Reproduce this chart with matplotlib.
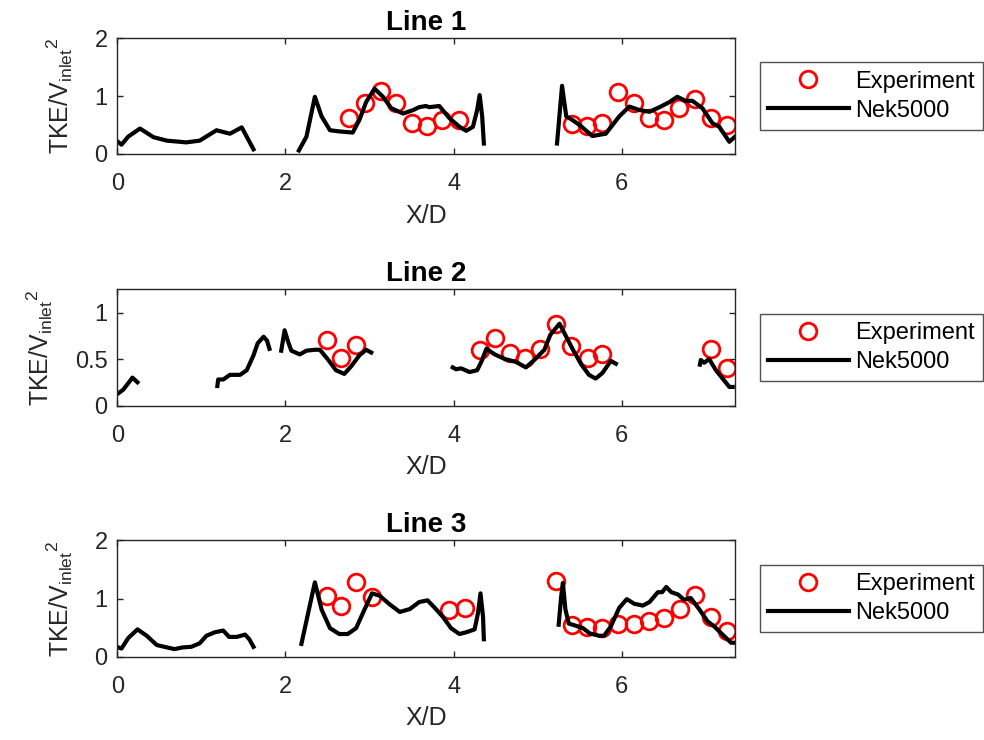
import numpy as np
import matplotlib
matplotlib.use("Agg")
import matplotlib.pyplot as plt
from matplotlib.ticker import FormatStrFormatter

plt.rcParams['font.family'] = ['Liberation Sans', 'DejaVu Sans']
plt.rcParams['mathtext.default'] = 'regular'

nan = np.nan

# ---- Line 1 ----
l1_sim_x = [0.00, 0.05, 0.13, 0.27, 0.43, 0.59, 0.82, 0.98, 1.18, 1.34, 1.48, 1.62, nan,
            2.16, 2.25, 2.35, 2.43, 2.53, 2.64, 2.80, 2.88, 2.96, 3.06, 3.16, 3.26, 3.40, 3.52,
            3.59, 3.67, 3.71, 3.83, 3.95, 4.07, 4.15, 4.23, 4.28, 4.31, 4.34, 4.36, nan,
            5.23, 5.29, 5.34, 5.40, 5.50, 5.65, 5.81, 5.97, 6.09, 6.21, 6.33, 6.45, 6.57,
            6.66, 6.76, 6.84, 6.96, 7.08, 7.16, 7.28, 7.34]
l1_sim_y = [0.22, 0.16, 0.30, 0.44, 0.29, 0.23, 0.20, 0.23, 0.41, 0.35, 0.46, 0.08, nan,
            0.06, 0.30, 0.99, 0.65, 0.41, 0.39, 0.37, 0.59, 0.90, 1.13, 0.99, 0.79, 0.70, 0.76,
            0.81, 0.83, 0.81, 0.83, 0.62, 0.47, 0.40, 0.47, 0.76, 1.02, 0.65, 0.18, nan,
            0.18, 1.18, 0.65, 0.60, 0.50, 0.31, 0.35, 0.65, 0.82, 0.76, 0.73, 0.81, 0.90,
            0.99, 0.92, 0.92, 0.79, 0.53, 0.47, 0.21, 0.29]
l1_exp_x = [2.76, 2.95, 3.14, 3.32, 3.50, 3.68, 3.86, 4.06,
            5.41, 5.59, 5.77, 5.95, 6.14, 6.32, 6.50, 6.68, 6.87, 7.06, 7.25]
l1_exp_y = [0.63, 0.88, 1.09, 0.88, 0.54, 0.48, 0.58, 0.58,
            0.51, 0.48, 0.53, 1.08, 0.89, 0.63, 0.59, 0.79, 0.96, 0.63, 0.50]

# ---- Line 2 ----
l2_sim_x = [0.01, 0.07, 0.13, 0.18, 0.24, nan,
            1.19, 1.20, 1.26, 1.34, 1.46, 1.54, 1.62, 1.67, 1.74, 1.78, 1.81, nan,
            1.95, 1.99, 2.03, 2.07, 2.17, 2.25, 2.35, 2.41, 2.51, 2.60, 2.70, 2.78, 2.88,
            2.96, 3.02, nan,
            3.99, 4.03, 4.09, 4.19, 4.28, 4.33, 4.39, 4.49, 4.61, 4.74, 4.86, 4.96, 5.08,
            5.15, 5.26, 5.34, 5.42, 5.52, 5.61, 5.69, 5.77, 5.87, 5.93, nan,
            6.93, 6.94, 6.98, 7.04, 7.12, 7.20, 7.28, 7.32]
l2_sim_y = [0.13, 0.17, 0.24, 0.30, 0.25, nan,
            0.21, 0.28, 0.28, 0.33, 0.33, 0.38, 0.54, 0.67, 0.74, 0.70, 0.61, nan,
            0.59, 0.81, 0.69, 0.59, 0.55, 0.59, 0.60, 0.60, 0.49, 0.38, 0.34, 0.42, 0.54,
            0.60, 0.57, nan,
            0.41, 0.39, 0.40, 0.36, 0.38, 0.47, 0.61, 0.55, 0.50, 0.47, 0.41, 0.49, 0.60,
            0.76, 0.88, 0.74, 0.60, 0.44, 0.33, 0.29, 0.35, 0.48, 0.45, nan,
            0.44, 0.49, 0.46, 0.50, 0.38, 0.29, 0.20, 0.20]
l2_exp_x = [2.49, 2.66, 2.84,
            4.31, 4.49, 4.67, 4.85, 5.03, 5.22, 5.40, 5.60, 5.77,
            7.06, 7.25]
l2_exp_y = [0.70, 0.51, 0.65,
            0.60, 0.73, 0.57, 0.51, 0.61, 0.88, 0.64, 0.51, 0.55,
            0.61, 0.40]

# ---- Line 3 ----
l3_sim_x = [0.01, 0.05, 0.13, 0.24, 0.35, 0.47, 0.59, 0.68, 0.78, 0.88, 0.98, 1.06,
            1.16, 1.26, 1.33, 1.42, 1.52, 1.57, 1.62, nan,
            2.19, 2.27, 2.35, 2.43, 2.53, 2.64, 2.74, 2.84, 2.94, 3.03, 3.12, 3.24, 3.36,
            3.48, 3.59, 3.69, 3.77, 3.87, 3.97, 4.07, 4.15, 4.25, 4.29, 4.32, 4.35, 4.36, nan,
            5.25, 5.28, 5.30, 5.33, 5.37, 5.46, 5.54, 5.62, 5.73, 5.79, 5.87, 5.97, 6.06,
            6.15, 6.25, 6.33, 6.43, 6.48, 6.53, 6.59, 6.67, 6.74, 6.82, 6.92, 7.02, 7.10,
            7.20, 7.30, 7.34]
l3_sim_y = [0.16, 0.14, 0.32, 0.47, 0.36, 0.20, 0.16, 0.13, 0.16, 0.17, 0.23, 0.36,
            0.42, 0.45, 0.34, 0.34, 0.38, 0.30, 0.17, nan,
            0.22, 0.75, 1.28, 0.81, 0.49, 0.39, 0.39, 0.49, 0.81, 1.09, 1.05, 0.90, 0.77,
            0.82, 0.94, 0.97, 0.85, 0.69, 0.49, 0.39, 0.42, 0.47, 0.75, 1.09, 0.69, 0.30, nan,
            0.55, 1.04, 1.27, 0.81, 0.57, 0.53, 0.49, 0.40, 0.36, 0.36, 0.52, 0.84, 0.99,
            0.91, 0.88, 0.94, 1.11, 1.11, 1.20, 1.11, 1.07, 0.98, 1.01, 0.82, 0.61, 0.52,
            0.38, 0.24, 0.24]
l3_exp_x = [2.49, 2.66, 2.84, 3.03, 3.95, 4.13,
            5.22, 5.41, 5.59, 5.77, 5.95, 6.14, 6.32, 6.50, 6.69, 6.87, 7.06, 7.25]
l3_exp_y = [1.04, 0.87, 1.29, 1.02, 0.81, 0.84,
            1.30, 0.55, 0.51, 0.49, 0.57, 0.57, 0.61, 0.66, 0.82, 1.07, 0.68, 0.45]

titles = ['Line 1', 'Line 2', 'Line 3']
ylims = [(0, 2), (0, 1.25), (0, 2)]
yticks = [[0, 1, 2], [0, 0.5, 1], [0, 1, 2]]
xticks = [0, 2, 4, 6]

sims = [(l1_sim_x, l1_sim_y), (l2_sim_x, l2_sim_y), (l3_sim_x, l3_sim_y)]
exps = [(l1_exp_x, l1_exp_y), (l2_exp_x, l2_exp_y), (l3_exp_x, l3_exp_y)]

fig = plt.figure(figsize=(9.84, 7.40), dpi=100)
# axes boxes in figure fraction: left, bottom, width, height
boxes = [[0.1192, 0.792, 0.628, 0.156],
         [0.1192, 0.452, 0.628, 0.157],
         [0.1192, 0.1126, 0.628, 0.157]]

axcol = '#262626'
for i in range(3):
    ax = fig.add_axes(boxes[i])
    ax.plot(exps[i][0], exps[i][1], 'o', mfc='none', mec='red', ms=12, mew=2,
            label='Experiment')
    ax.plot(sims[i][0], sims[i][1], '-', color='black', lw=3, label='Nek5000')
    ax.set_xlim(0, 7.35)
    ax.set_ylim(ylims[i])
    ax.set_xticks(xticks)
    ax.set_yticks(yticks[i])
    ax.yaxis.set_major_formatter(FormatStrFormatter('%g'))
    ax.tick_params(direction='in', top=True, right=True, length=4, width=1,
                   labelsize=17, colors=axcol)
    ax.tick_params(axis='x', pad=14)
    ax.tick_params(axis='y', pad=7)
    for s in ax.spines.values():
        s.set_color(axcol)
        s.set_linewidth(1)
    ax.set_title(titles[i], fontsize=20, fontweight='bold', pad=6)
    ax.set_xlabel('X/D', fontsize=18, color=axcol, labelpad=6)
    ax.set_ylabel('TKE/V$_{inlet}$$^{2}$', fontsize=18, color=axcol, labelpad=14)
    leg = ax.legend(loc='center left', bbox_to_anchor=(1.04, 0.5), fontsize=17,
                    handlelength=3.4, fancybox=False, edgecolor=axcol,
                    borderpad=0.35, labelspacing=0.3, handletextpad=0.3,
                    borderaxespad=0)
    leg.get_frame().set_linewidth(1)

fig.savefig('out.png', dpi=100)
